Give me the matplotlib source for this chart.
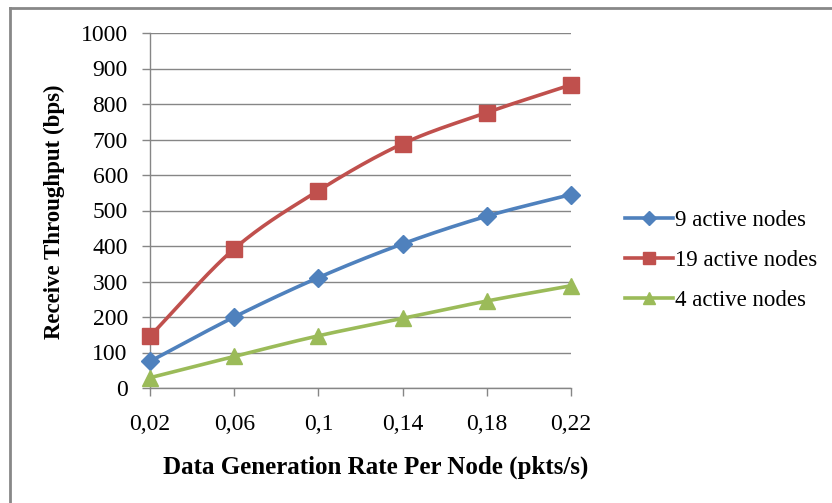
import numpy as np
import matplotlib
matplotlib.use('Agg')
import matplotlib.pyplot as plt
from matplotlib.lines import Line2D

plt.rcParams['font.family'] = ['Liberation Serif', 'DejaVu Serif']

rates = ['0,02', '0,06', '0,1', '0,14', '0,18', '0,22']
nodes9 = [75, 200, 311, 406, 484, 545]
nodes19 = [146, 392, 556, 688, 776, 854]
nodes4 = [29, 89, 147, 196, 245, 288]
y_ticks = list(range(0, 1001, 100))


def smooth(xs, ys, n=30):
    # catmull-rom style smoothing, like excel's "smoothed line"
    xs = np.asarray(xs, float)
    ys = np.asarray(ys, float)
    px = np.concatenate([[2 * xs[0] - xs[1]], xs, [2 * xs[-1] - xs[-2]]])
    py = np.concatenate([[2 * ys[0] - ys[1]], ys, [2 * ys[-1] - ys[-2]]])
    outx, outy = [], []
    t = np.linspace(0, 1, n)
    for i in range(1, len(px) - 2):
        for p, out in ((px, outx), (py, outy)):
            p0, p1, p2, p3 = p[i - 1], p[i], p[i + 1], p[i + 2]
            c1 = p1 + (p2 - p0) / 6
            c2 = p2 - (p3 - p1) / 6
            seg = ((1 - t) ** 3 * p1 + 3 * (1 - t) ** 2 * t * c1
                   + 3 * (1 - t) * t ** 2 * c2 + t ** 3 * p2)
            out.extend(seg)
    return np.array(outx), np.array(outy)


fig = plt.figure(figsize=(8.32, 5.03), dpi=100)
ax = fig.add_axes([150 / 832, 1 - 388 / 503, 421 / 832, 355 / 503])

x = np.arange(len(rates))
series = [
    (nodes9, '#4F81BD', 'D', 9.5, '9 active nodes'),
    (nodes19, '#C0504D', 's', 12, '19 active nodes'),
    (nodes4, '#9BBB59', '^', 12, '4 active nodes'),
]
handles = []
for vals, col, mk, ms, lab in series:
    sx, sy = smooth(x, vals)
    ax.plot(sx, sy, color=col, lw=2.6, zorder=3, solid_capstyle='round')
    ax.plot(x, vals, ls='none', marker=mk, ms=ms, color=col, mec=col, zorder=4,
            clip_on=False)
    handles.append(Line2D([], [], color=col, lw=2.6, marker=mk, ms=ms * 0.75,
                          mec=col, label=lab))

ax.set_xlim(0, len(rates) - 1)
ax.set_ylim(0, 1000)
ax.set_yticks(y_ticks)
ax.set_xticks(x)
ax.set_xticklabels(rates)
ax.yaxis.grid(True, color='#868686', lw=1)
ax.set_axisbelow(True)
for s in ['top', 'right']:
    ax.spines[s].set_visible(False)
for s in ['left', 'bottom']:
    ax.spines[s].set_color('#868686')
    ax.spines[s].set_linewidth(1)
ax.tick_params(axis='both', color='#868686', length=6, width=1,
               labelsize=17, direction='out')
ax.tick_params(axis='y', pad=10)
ax.tick_params(axis='x', pad=13)

fig.text(54 / 832, 1 - 212 / 503, 'Receive Throughput (bps)', rotation=90,
         ha='center', va='center', fontsize=16.5, fontweight='bold')
fig.text(376 / 832, 1 - 467 / 503, 'Data Generation Rate Per Node (pkts/s)',
         ha='center', va='center', fontsize=18, fontweight='bold')

fig.legend(handles=handles, loc='center left',
           bbox_to_anchor=(625 / 832, 1 - 260.5 / 503), frameon=False,
           fontsize=16.5, handlelength=2.1, handletextpad=0.1,
           labelspacing=0.82, borderpad=0, borderaxespad=0)

# outer chart border (top and left edges visible)
fig.add_artist(Line2D([10 / 832, 1], [1 - 7.5 / 503, 1 - 7.5 / 503],
                      transform=fig.transFigure, color='#888888', lw=2))
fig.add_artist(Line2D([10 / 832, 10 / 832], [0, 1 - 7.5 / 503],
                      transform=fig.transFigure, color='#888888', lw=2))

fig.savefig('out.png', dpi=100)
